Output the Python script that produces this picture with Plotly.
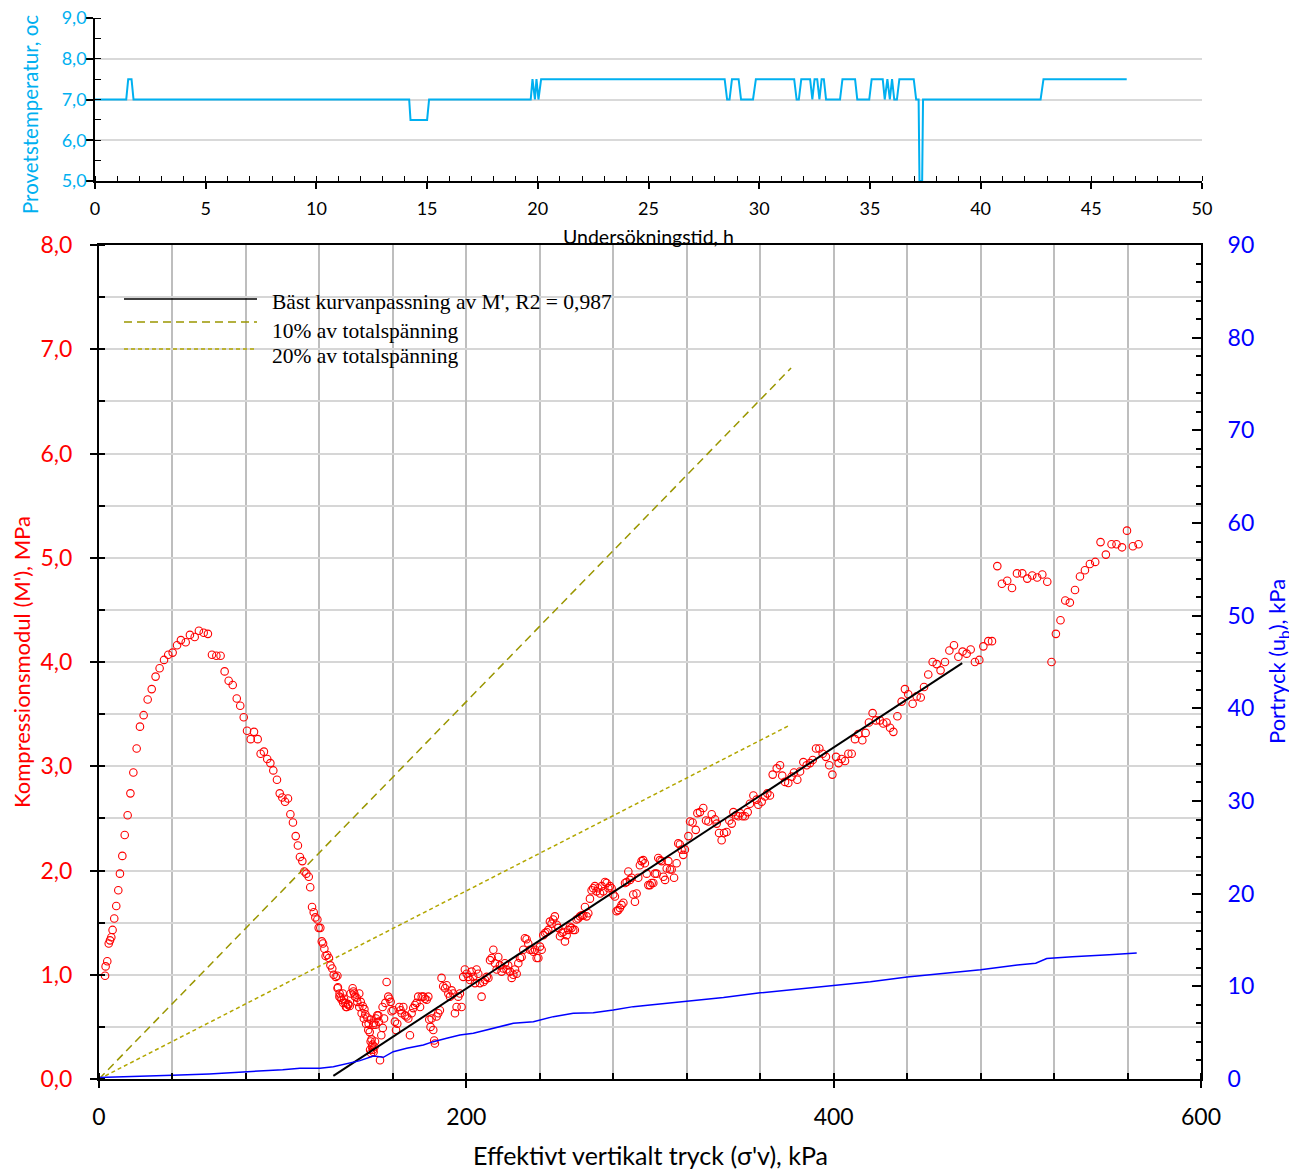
import plotly.graph_objects as go

# ---------------- data ----------------
# Top chart: sample temperature vs time (h)
temp_time = [0, 1.41, 1.50, 1.65, 1.74, 14.19, 14.25, 15.00, 15.09, 19.68, 19.76, 19.87, 19.94, 20.03, 20.15,
             28.44, 28.55, 28.66, 28.77, 29.07, 29.18, 29.72, 29.85, 31.58, 31.69, 31.79, 31.90, 32.30, 32.40,
             32.50, 32.62, 32.72, 32.82, 32.92, 33.02, 33.65, 33.76, 34.33, 34.43, 34.97, 35.08, 35.58, 35.67,
             35.79, 35.90, 36.00, 36.10, 36.22, 36.33, 36.98, 37.09, 37.20, 37.24, 37.36, 37.40, 42.71, 42.84, 46.60]
temp_value = [7.0, 7.0, 7.5, 7.5, 7.0, 7.0, 6.5, 6.5, 7.0, 7.0, 7.5, 7.0, 7.5, 7.0, 7.5,
              7.5, 7.0, 7.0, 7.5, 7.5, 7.0, 7.0, 7.5, 7.5, 7.0, 7.0, 7.5, 7.5, 7.0,
              7.5, 7.5, 7.0, 7.5, 7.5, 7.0, 7.0, 7.5, 7.5, 7.0, 7.0, 7.5, 7.5, 7.0,
              7.5, 7.0, 7.5, 7.0, 7.0, 7.5, 7.5, 7.0, 7.0, 5.0, 5.0, 7.0, 7.0, 7.5, 7.5]

# Main chart: compression modulus M' (MPa) vs effective vertical stress (kPa)
m_sigma = [
    3.3, 3.6, 4.5, 5.3, 6.0, 6.7, 7.4, 8.3, 9.4, 10.5, 11.4, 12.7, 14.0, 15.6, 17.1, 18.7, 20.5, 22.3, 24.3, 26.5,
    28.7, 30.8, 33.0, 35.4, 37.7, 40.1, 42.5, 44.6, 47.2, 49.5, 52.1, 54.4, 57.0, 59.3, 61.5, 63.9, 66.2, 68.4,
    70.6, 72.8, 75.0, 76.9, 78.8, 80.6, 82.6, 84.4, 86.4, 88.0, 89.8, 91.6, 93.3, 94.9, 96.9, 98.4, 99.8, 101.3,
    102.9, 104.2, 105.6, 107.1, 108.3, 109.4, 110.7, 111.8, 112.9, 114.2, 115.0, 116.0, 116.9, 117.8, 118.9,
    119.6, 120.5, 121.3, 122.0, 122.7, 123.4, 124.3, 125.2, 126.0, 127.0, 127.8, 128.9, 129.8, 130.1, 131.0,
    131.6, 132.7, 133.4, 134.1, 134.9, 135.7, 136.5, 138.1, 139.0, 140.3, 141.7, 142.5, 143.6, 144.5, 145.0,
    146.1, 146.8, 147.4, 147.9, 148.6, 149.2, 149.7, 150.6, 151.5, 152.3, 153.0, 153.7, 154.5, 155.2, 155.9,
    156.6,
    147.6, 148.1, 148.9, 149.5, 150.0, 148.4, 150.3,
    129.9, 130.9, 132.1, 133.0, 134.5, 135.7, 137.0, 138.5, 139.4, 140.6, 141.7, 143.0, 144.2, 145.4, 146.6,
    147.9, 149.4, 150.8, 152.1, 154.4,
    157.5, 158.1, 158.8, 159.3, 160.2, 161.1, 161.7, 162.4, 163.5, 164.2, 164.8, 165.7, 166.6, 167.5, 168.4,
    169.3, 170.2, 171.1, 172.0, 172.9, 173.8, 174.8, 175.7, 176.6, 177.5, 178.4, 179.3, 179.8, 180.5, 181.1,
    182.0, 182.5, 182.9, 183.8, 184.7, 185.6, 186.5, 187.4, 188.4, 189.3, 190.2, 191.1, 192.0, 192.9, 193.8,
    194.7, 195.6, 196.5, 197.4, 198.3, 199.2, 200.2, 201.1, 202.0, 202.9, 203.8, 204.7, 205.6, 206.5, 207.4,
    208.3, 209.3, 210.2, 211.1, 212.0, 212.9, 213.8, 214.7, 215.6, 216.5, 217.4, 218.3, 219.2, 220.1, 221.0,
    221.9, 222.8, 223.8, 224.7, 225.6, 226.5, 227.4, 228.3, 229.2, 230.1, 231.0, 231.9, 232.8, 233.7, 234.6,
    235.6, 236.5, 237.4, 238.3, 239.2, 240.1, 241.0, 241.9, 242.8, 243.7, 244.6, 245.5, 246.4, 247.3, 248.2,
    249.2, 250.1, 251.0, 251.9, 252.8, 253.7, 254.6, 255.5, 256.4, 257.3, 258.2, 259.1, 260.0, 260.9, 261.9,
    262.8, 263.7, 264.6, 265.5, 266.4, 267.3, 268.2, 269.1, 270.0, 270.9, 271.8, 272.8, 273.7, 274.6, 275.5,
    276.4, 277.3, 278.2, 279.1, 280.0, 280.9, 281.8, 282.7, 283.6, 284.5, 285.5, 286.4, 287.3, 288.2, 289.1,
    290.0, 290.9, 291.8, 292.7, 293.6, 294.5, 295.4, 296.3, 297.2, 298.2, 299.1,
    300.0, 300.9, 301.8, 302.7, 303.6, 304.5, 305.4, 306.3, 307.3, 308.2, 309.1, 310.0, 310.9, 311.8, 313.1,
    314.5, 315.4, 316.3, 317.2, 318.1, 319.0, 320.9, 321.8, 323.2, 324.9, 325.8, 327.2, 329.0, 330.5, 331.8,
    333.6, 335.4, 336.3, 337.6, 339.0, 340.3, 341.7, 343.2, 344.5, 345.4, 346.8, 348.1, 349.0, 350.4, 351.7,
    353.2, 354.4, 356.3, 358.1, 359.0, 360.8, 362.6, 363.9, 365.3, 366.8, 369.0, 370.8, 372.0, 373.5, 375.3,
    377.1, 378.4, 380.2, 381.7, 383.5, 385.3, 387.1, 388.6, 390.4, 392.2, 394.0, 395.8, 397.6, 399.3, 401.3,
    402.7, 404.3, 406.2, 408.0, 409.8, 411.6, 413.4, 415.6, 417.4, 419.2, 421.2, 423.0, 425.2, 427.0, 428.8,
    430.7, 432.5, 434.7, 437.0, 438.8, 440.6, 443.0, 445.2, 447.4, 449.2, 451.5, 453.9, 456.1, 458.2, 460.6,
    463.0, 465.5, 467.9, 470.2, 472.4, 474.6, 476.9, 479.3, 481.5, 484.2,
    486.2, 489.1, 491.6, 494.5, 497.1, 499.8, 502.7, 505.4, 508.1, 510.8, 513.6, 516.3, 518.6, 521.0, 523.5,
    526.1, 528.6, 531.4, 534.1, 536.8, 539.5, 542.4, 545.3, 548.2, 551.3, 554.0, 557.0, 559.7, 562.9, 566.0
]
m_value = [
    0.99, 1.08, 1.13, 1.30, 1.33, 1.36, 1.43, 1.54, 1.66, 1.81, 1.97, 2.14, 2.34, 2.53, 2.74, 2.94, 3.17, 3.38, 3.49, 3.64,
    3.74, 3.86, 3.94, 4.02, 4.07, 4.09, 4.16, 4.21, 4.19, 4.26, 4.24, 4.30, 4.28, 4.27, 4.07, 4.06, 4.06, 3.91,
    3.82, 3.78, 3.65, 3.58, 3.47, 3.34, 3.26, 3.33, 3.26, 3.12, 3.14, 3.07, 3.03, 2.96, 2.87, 2.74, 2.70, 2.66,
    2.69, 2.54, 2.46, 2.33, 2.24, 2.13, 2.09, 1.99, 1.97, 1.94, 1.84, 1.65, 1.60, 1.55, 1.53,
    1.45, 1.45, 1.32, 1.30, 1.25, 1.18, 1.19, 1.16, 1.09, 1.06, 1.00, 0.98, 0.99, 0.88, 0.82,
    0.78, 0.82, 0.77, 0.73, 0.69, 0.72, 0.70, 0.87, 0.82, 0.78, 0.82, 0.74, 0.70, 0.67, 0.62,
    0.59, 0.53, 0.45, 0.36, 0.31, 0.28, 0.54, 0.52, 0.61, 0.55, 0.18, 0.42, 0.49, 0.58, 0.73,
    0.93,
    0.28, 0.25, 0.33, 0.26, 0.31, 0.38, 0.36,
    0.87, 0.79, 0.76, 0.73, 0.69, 0.71, 0.82, 0.84, 0.79, 0.74, 0.69, 0.63, 0.58, 0.53, 0.47,
    0.57, 0.52, 0.58, 0.61, 0.69,
    0.79, 0.77, 0.74, 0.65, 0.66, 0.55, 0.47, 0.53, 0.69, 0.66, 0.63, 0.69, 0.61, 0.60, 0.58,
    0.42, 0.63, 0.68, 0.71, 0.73, 0.79, 0.69, 0.79, 0.79, 0.77, 0.76, 0.79, 0.57, 0.50, 0.58,
    0.47, 0.37, 0.34, 0.60, 0.63, 0.66, 0.97, 0.89, 0.87, 0.90, 0.82, 0.79, 0.85, 0.82, 0.63,
    0.69, 0.79, 0.82, 0.69, 0.98, 1.05, 1.01, 0.98, 0.95, 1.03, 0.98, 0.92, 1.05, 1.01, 0.92,
    0.79, 0.93, 0.95, 0.98, 0.97, 1.14, 1.16, 1.24, 1.11, 1.05, 1.17, 1.09, 1.03, 1.06, 1.11,
    1.05, 1.09, 1.03, 0.97, 1.00, 1.05, 1.01, 1.11, 1.16, 1.17, 1.24, 1.35, 1.34, 1.30, 1.24,
    1.24, 1.22, 1.24, 1.16, 1.16, 1.27, 1.24, 1.38, 1.40, 1.41, 1.43, 1.51, 1.49, 1.53, 1.56,
    1.48, 1.45, 1.37, 1.40, 1.41, 1.32, 1.38, 1.43, 1.46, 1.45, 1.43, 1.43, 1.53, 1.54, 1.56,
    1.57, 1.57, 1.65, 1.56, 1.59, 1.73, 1.81, 1.83, 1.85, 1.80, 1.83, 1.78, 1.85, 1.80, 1.89,
    1.88, 1.83, 1.85, 1.83, 1.77, 1.75, 1.61, 1.62, 1.64, 1.67, 1.69, 1.88, 1.89, 1.99, 1.91,
    1.93, 1.77, 1.70, 1.78, 1.93, 2.05, 2.09, 2.10, 2.07, 1.97, 1.86,
    1.86, 1.88, 1.88, 1.97, 1.97, 2.12, 2.10, 2.09, 1.94, 1.91, 2.02, 2.09, 2.01, 2.01, 1.93,
    2.07, 2.26, 2.25, 2.20, 2.15, 2.20, 2.33, 2.47, 2.46, 2.39, 2.55, 2.56, 2.60, 2.48, 2.47,
    2.54, 2.49, 2.45, 2.36, 2.29, 2.36, 2.37, 2.48, 2.45, 2.56, 2.53, 2.52, 2.55, 2.52, 2.52,
    2.56, 2.64, 2.72, 2.68, 2.63, 2.66, 2.71, 2.74, 2.72, 2.92, 2.98, 3.01, 2.91, 2.85, 2.84,
    2.90, 2.94, 2.87, 2.95, 3.04, 3.01, 3.03, 3.06, 3.17, 3.17, 3.12, 3.09, 3.01, 2.92, 3.09,
    3.03, 3.07, 3.05, 3.12, 3.12, 3.26, 3.31, 3.25, 3.32, 3.42, 3.51, 3.44, 3.44, 3.41, 3.42,
    3.37, 3.33, 3.48, 3.62, 3.74, 3.69, 3.60, 3.67, 3.66, 3.76, 3.88, 4.00, 3.98, 3.92, 4.00,
    4.11, 4.16, 4.05, 4.10, 4.08, 4.12, 4.00, 4.02, 4.15, 4.20,
    4.20, 4.92, 4.75, 4.78, 4.71, 4.85, 4.85, 4.80, 4.83, 4.81, 4.84, 4.77, 4.00, 4.27, 4.40,
    4.59, 4.57, 4.69, 4.82, 4.88, 4.94, 4.96, 5.15, 5.03, 5.13, 5.13, 5.10, 5.26, 5.11, 5.13
]

# Pore pressure u_b (kPa) vs effective vertical stress (kPa)
u_sigma = [0, 10, 20, 40, 60, 80, 100, 109.4, 120.3, 127.6, 134.8, 142.1, 149.4, 154.8, 160.2, 167.5, 176.6,
           182.0, 189.3, 196.5, 203.8, 211.1, 218.3, 225.6, 236.5, 247.4, 258.2, 269.1, 280.0, 290.9, 300.0,
           320, 340, 360, 380, 400, 420, 440, 460, 480, 500, 510, 516, 530, 550, 565]
u_value = [0.15, 0.2, 0.25, 0.4, 0.55, 0.75, 1.0, 1.15, 1.15, 1.33, 1.69, 1.98, 2.48, 2.34, 2.95, 3.31, 3.67,
           4.03, 4.39, 4.75, 4.93, 5.29, 5.65, 6.01, 6.19, 6.73, 7.09, 7.16, 7.45, 7.81, 7.99,
           8.4, 8.8, 9.3, 9.7, 10.1, 10.5, 11.0, 11.4, 11.8, 12.3, 12.5, 13.0, 13.2, 13.4, 13.6]

# Best-fit line and total-stress reference lines
fit_sigma = [127.6, 470.0]
fit_value = [0.03, 3.99]
p10_sigma = [0, 376.8]
p10_value = [0, 6.82]
p20_sigma = [0, 375.7]
p20_value = [0, 3.39]

legend_labels = ["Bäst kurvanpassning av M', R2 = 0,987", "10% av totalspänning", "20% av totalspänning"]

x_title = "Effektivt vertikalt tryck (σ'v), kPa"
y_title = "Kompressionsmodul (M'), MPa"
y2_title = "Portryck (u<sub>b</sub>), kPa"
top_x_title = "Undersökningstid, h"
top_y_title = "Provetstemperatur, oc"

# ---------------- figure ----------------
# The page body has an 8 px margin, so the figure is laid out 8 px smaller and shifted.
OFF = 8
W, H = 1297 - OFF, 1169 - OFF
def px(x):
    return (x - OFF) / W
def py(y):
    return 1 - (y - OFF) / H

SANS = "Lato"
CYAN = "#00B0F0"
OLIVE1 = "#9A9600"
OLIVE2 = "#B2A600"

fig = go.Figure()

fig.add_trace(go.Scatter(x=temp_time, y=temp_value, xaxis="x2", yaxis="y3", mode="lines",
                         line=dict(color=CYAN, width=2), showlegend=False, hoverinfo="skip"))

fig.add_trace(go.Scatter(x=p10_sigma, y=p10_value, mode="lines",
                         line=dict(color=OLIVE1, width=1.5, dash="8px,5px"), showlegend=False))
fig.add_trace(go.Scatter(x=p20_sigma, y=p20_value, mode="lines",
                         line=dict(color=OLIVE2, width=1.5, dash="4px,3px"), showlegend=False))

fig.add_trace(go.Scatter(x=m_sigma, y=m_value, mode="markers",
                         marker=dict(symbol="circle-open", color="red", size=7.5, line=dict(width=1.1, color="red")),
                         showlegend=False))

fig.add_trace(go.Scatter(x=u_sigma, y=u_value, yaxis="y2", mode="lines",
                         line=dict(color="#0000FF", width=1.5), showlegend=False))

fig.add_trace(go.Scatter(x=fit_sigma, y=fit_value, mode="lines",
                         line=dict(color="black", width=2), showlegend=False))

fig.update_layout(
    width=W, height=H, autosize=False,
    margin=dict(l=0, r=0, t=0, b=0, autoexpand=False),
    paper_bgcolor="white", plot_bgcolor="white",
    separators=", ",
    showlegend=False,
    xaxis=dict(
        domain=[px(99), px(1201)], range=[0, 600], anchor="y", automargin=False,
        tick0=0, dtick=200, ticks="outside", ticklen=7, tickwidth=2, tickcolor="black",
        showline=True, linecolor="black", linewidth=2, mirror=True,
        showgrid=True, gridcolor="#BEBEBE", gridwidth=2, zeroline=False,
        minor=dict(tick0=0, dtick=40, ticks="inside", ticklen=6, tickwidth=1.5, tickcolor="black",
                   showgrid=True, gridcolor="#BEBEBE", gridwidth=2),
        tickfont=dict(family=SANS, size=23, color="black"),
        ticklabelstandoff=9,
    ),
    yaxis=dict(
        domain=[py(1079), py(245)], range=[0, 8], anchor="x", automargin=False,
        tick0=0, dtick=1, tickformat=".1f", ticks="outside", ticklen=7, tickwidth=2, tickcolor="black",
        showline=True, linecolor="black", linewidth=2,
        showgrid=True, gridcolor="#D6D6D6", gridwidth=2, zeroline=False,
        minor=dict(tick0=0, dtick=0.5, ticks="inside", ticklen=6, tickwidth=1.5, tickcolor="black",
                   showgrid=True, gridcolor="#D6D6D6", gridwidth=2),
        tickfont=dict(family=SANS, size=23, color="red"),
        ticklabelstandoff=13,
    ),
    yaxis2=dict(
        overlaying="y", side="right", anchor="x", range=[0, 90], automargin=False,
        tick0=0, dtick=10, ticks="inside", ticklen=9, tickwidth=2, tickcolor="black",
        showline=True, linecolor="black", linewidth=2,
        showgrid=False, zeroline=False,
        minor=dict(tick0=0, dtick=2, ticks="inside", ticklen=5, tickwidth=1.5, tickcolor="black", showgrid=False),
        tickfont=dict(family=SANS, size=23, color="#0000FF"),
        ticklabelstandoff=20,
    ),
    xaxis2=dict(
        domain=[px(95), px(1202)], range=[0, 50], anchor="y3", automargin=False,
        tick0=0, dtick=5, ticks="outside", ticklen=6, tickwidth=1.5, tickcolor="black",
        showline=True, linecolor="black", linewidth=1.5,
        showgrid=False, zeroline=False,
        minor=dict(tick0=0, dtick=1, ticks="inside", ticklen=5, tickwidth=1, tickcolor="black", showgrid=False),
        tickfont=dict(family=SANS, size=18, color="black"),
        ticklabelstandoff=5,
    ),
    yaxis3=dict(
        domain=[py(181), py(18)], range=[5, 9], anchor="x2", automargin=False,
        tick0=5, dtick=1, tickformat=".1f", ticks="outside", ticklen=7, tickwidth=1.5, tickcolor="black",
        showline=True, linecolor="black", linewidth=1.5,
        showgrid=True, gridcolor="#D9D9D9", gridwidth=1.5, zeroline=False,
        minor=dict(tick0=5, dtick=0.5, ticks="inside", ticklen=6, tickwidth=1, tickcolor="black", showgrid=False),
        tickfont=dict(family=SANS, size=18, color=CYAN),
        ticklabelstandoff=-4,
        ticklabeloverflow="allow",
    ),
)

# Manual legend (samples + labels)
legend_rows = [(299, 302, dict(color="black", width=1.5)),
               (322, 331, dict(color=OLIVE1, width=1.5, dash="8px,5px")),
               (349, 356, dict(color=OLIVE2, width=1.5, dash="4px,3px"))]
for (ly, ty, lstyle), label in zip(legend_rows, legend_labels):
    fig.add_shape(type="line", xref="paper", yref="paper", x0=px(124), x1=px(257), y0=py(ly), y1=py(ly),
                  line=lstyle)
    fig.add_annotation(xref="paper", yref="paper", x=px(270), y=py(ty), xanchor="left", yanchor="middle",
                       text=label, showarrow=False,
                       font=dict(family="Liberation Serif", size=21.5, color="black"))

# Axis titles
fig.add_annotation(xref="paper", yref="paper", x=px(650), y=py(1155), text=x_title, showarrow=False,
                   xanchor="center", yanchor="middle", font=dict(family=SANS, size=25, color="black"))
fig.add_annotation(xref="paper", yref="paper", x=px(21), y=py(662), text=y_title, showarrow=False,
                   textangle=-90, xanchor="center", yanchor="middle", font=dict(family=SANS, size=22, color="red"))
fig.add_annotation(xref="paper", yref="paper", x=px(1278), y=py(662), text=y2_title, showarrow=False,
                   textangle=-90, xanchor="center", yanchor="middle", font=dict(family=SANS, size=22, color="#0000FF"))
fig.add_annotation(xref="paper", yref="paper", x=px(648), y=py(237), text=top_x_title, showarrow=False,
                   xanchor="center", yanchor="middle", font=dict(family=SANS, size=19.5, color="black"))
fig.add_annotation(xref="paper", yref="paper", x=px(30), y=py(115), text=top_y_title, showarrow=False,
                   textangle=-90, xanchor="center", yanchor="middle", font=dict(family=SANS, size=20.5, color=CYAN))

fig.write_html("out.html")
